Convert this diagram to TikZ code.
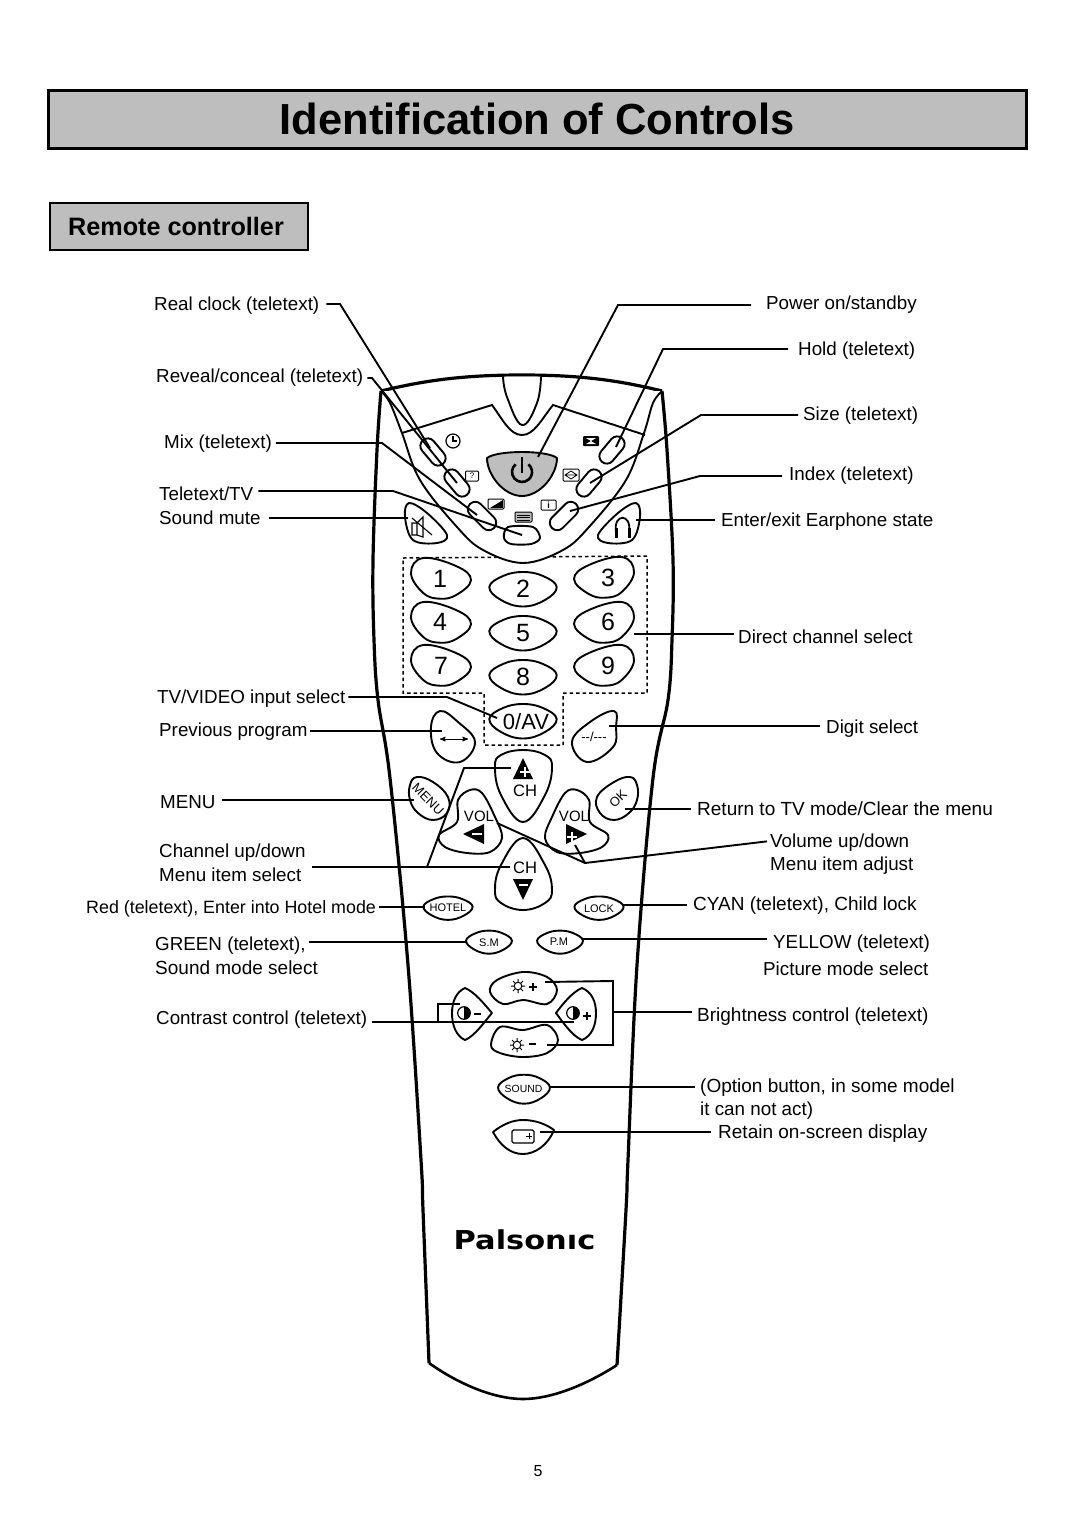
\documentclass[tikz,border=0pt]{standalone}
\usepackage{fontspec}
\setmainfont{Liberation Sans}
\newfontfamily\logofont{DejaVu Sans}
\usetikzlibrary{arrows}
\definecolor{panelgray}{HTML}{BEBEBE}
\tikzstyle{titlebox}=[rectangle,draw=black,line width=3pt,fill=panelgray,minimum width=978pt,minimum height=58pt,inner sep=0pt]
\tikzstyle{subbox}=[rectangle,draw=black,line width=1.8pt,fill=panelgray,minimum width=258pt,minimum height=47pt,inner sep=0pt]
\tikzstyle{caption}=[inner sep=0pt,anchor=base west,font=\fontsize{18.8}{21}\selectfont]
\tikzstyle{widecaption}=[caption,font=\fontsize{19}{21}\selectfont]
\tikzstyle{leader}=[black,line width=1.9pt,line join=miter]
\tikzstyle{btn}=[draw=black,fill=white,line width=1.9pt,line join=round]
\tikzstyle{body}=[black,line width=3.2pt]
\tikzstyle{face}=[black,line width=1.9pt]
\tikzstyle{pillbtn}=[rectangle,btn,rounded corners=7.5pt,minimum width=31pt,minimum height=15pt,inner sep=0pt]
\tikzstyle{digit}=[inner sep=0pt,font=\fontsize{25}{25}\selectfont]
\tikzstyle{keytxt}=[inner sep=0pt,font=\fontsize{15}{15}\selectfont]
\tikzstyle{smalltxt}=[inner sep=0pt,font=\fontsize{11}{11}\selectfont]
\tikzstyle{icon}=[draw=black,line width=1pt,fill=white,rounded corners=1pt]
\tikzset{
  eggbtn/.pic={\draw[btn] plot[smooth cycle,tension=.7] coordinates
    {(-29,-5) (-16.7,-20) (16.7,-11.7) (31,2) (16.7,16.7) (0,20.7) (-16.7,15)};},
  lensbtn/.pic={\draw[btn] plot[smooth cycle,tension=.7] coordinates
    {(-33.7,-2) (-20,-13) (0,-17) (20,-13) (33.7,-2) (22,11) (0,17.5) (-22,11)};},
  sunmark/.pic={\draw[black,line width=1pt] (-7,0) -- (7,0) (0,-7) -- (0,7) (-5,-5) -- (5,5) (-5,5) -- (5,-5);
    \draw[black,fill=white,line width=1pt] (0,0) circle (3.8);},
  halfmark/.pic={\draw[black,fill=white,line width=1.2pt] (0,0) circle (6.3);
    \fill[black] (0,-6.3) -- (0,6.3) .. controls (8.4,6.3) and (8.4,-6.3) .. (0,-6.3);}
}
\begin{document}
\begin{tikzpicture}[x=1pt,y=-1pt,>=stealth']

  \useasboundingbox (0,0) rectangle (1080,1527);
  \fill[white] (0,0) rectangle (1080,1527);

  % page headings
  \node[titlebox] (titleBox) at (537.5,119.5) {};
  \node[inner sep=0pt,anchor=base,font=\fontsize{43.5}{44}\selectfont\bfseries] (titleTxt) at (537,134) {Identification of Controls};
  \node[subbox] (subBox) at (179.3,226.2) {};
  \node[inner sep=0pt,anchor=base west,font=\fontsize{25.2}{26}\selectfont\bfseries] (subTxt) at (68,235) {Remote controller};
  \node[inner sep=0pt,anchor=base,font=\fontsize{16}{17}\selectfont] (pageNo) at (538,1476) {5};

  % housing
  \draw[body] (381,391) .. controls (430,379) and (470,375) .. (522,375) .. controls (574,375) and (614,379) .. (662,391);
  \draw[body] plot[smooth,tension=.6] coordinates {(381,391) (377,450) (373,560) (374,640) (378,700) (390,778) (408,965) (421,1160) (423,1210) (429,1363)};
  \draw[body] plot[smooth,tension=.6] coordinates {(662,391) (667,450) (673,560) (672,640) (668,700) (653,778) (637,965) (628,1160) (626,1210) (617,1365)};
  \draw[body,line width=2.6pt] (429,1363) .. controls (460,1385) and (495,1399) .. (523,1399) .. controls (551,1399) and (586,1385) .. (617,1365);

  % key group frame
  \draw[black,line width=1.5pt,dash pattern=on 3.5pt off 3pt] (403,558) -- (647,556) -- (647,693) -- (563,693) -- (563,745) -- (484,745) -- (484,693) -- (403,693) -- cycle;

  % upper face
  \draw[face,fill=white] plot[smooth,tension=.6] coordinates {(381,391) (390,403) (402,433) (420,480) (457,527) (483,550) (523,563) (563,550) (589,527) (626,480) (644,433) (653,403) (662,391)};
  \draw[face] (402,433) -- (492,405) .. controls (503,420) and (510,435) .. (522,435) .. controls (534,435) and (541,420) .. (553,405) -- (645,435);
  \draw[btn] plot[smooth,tension=.7] coordinates {(503,376.5) (507,397) (522,425) (537,403) (541,376.5)};

  % power key
  \draw[btn,fill=panelgray] (487,458) .. controls (497,450) and (547,450) .. (557,458) .. controls (557,475) and (540,496) .. (522,496) .. controls (504,496) and (487,475) .. (487,458) -- cycle;
  \draw[black,line width=2.6pt] (515.6,464.3) arc[start angle=130,end angle=410,radius=10pt];
  \draw[black,line width=2.6pt] (522,457) -- (522,473);

  % teletext keys
  \node[pillbtn,rotate=-50] (btnClock) at (433,452) {};
  \node[pillbtn,rotate=-50] (btnReveal) at (457,483) {};
  \node[pillbtn,rotate=-45,minimum width=34pt] (btnMix) at (482,516) {};
  \node[pillbtn,rotate=50] (btnHold) at (612,450) {};
  \node[pillbtn,rotate=50] (btnSize) at (589,483) {};
  \node[pillbtn,rotate=45,minimum width=34pt] (btnIndex) at (564,516) {};
  \draw[btn] plot[smooth cycle,tension=.5] coordinates {(508,527) (533,527) (540,538) (531,544) (511,544) (504,538)};
  \draw[btn] plot[smooth cycle,tension=.6] coordinates {(405,517) (409,503) (427,513) (447,535) (437,543) (413,540)};
  \draw[btn] plot[smooth cycle,tension=.6] coordinates {(640,517) (636,503) (618,513) (598,535) (608,543) (632,540)};

  % small marks above the teletext keys
  \draw[black,line width=1.2pt] (453,441) circle (7);
  \draw[black,line width=1.2pt] (453,436) -- (453,441) -- (457,441);
  \node[icon,minimum width=13pt,minimum height=10pt,inner sep=0pt,font=\fontsize{8}{8}\selectfont] (markHelp) at (472,476) {?};
  \draw[icon] (488,499) rectangle (504,509);
  \fill[black] (490,508) -- (503,500) -- (503,508) -- cycle;
  \draw[icon,fill=panelgray] (515,512) rectangle (532,522);
  \draw[black,line width=1pt] (517,515) -- (530,515) (517,517.5) -- (530,517.5) (517,520) -- (530,520);
  \node[icon,minimum width=15pt,minimum height=10pt,inner sep=0pt,font=\fontsize{9}{9}\selectfont\bfseries] (markInfo) at (548.5,505) {i};
  \draw[icon] (563,469) rectangle (579,481);
  \draw[black,line width=.8pt] (565,475) -- (571,471) -- (577,475) -- (571,479) -- cycle (565,475) -- (577,475);
  \fill[black,rounded corners=1pt] (583,436) rectangle (599,446);
  \fill[white] (586,438) -- (596,438) -- (591,441) -- cycle (586,444) -- (596,444) -- (591,441) -- cycle;

  % mute and earphone marks
  \draw[black,line width=1.1pt] (412,523) rectangle (417,535) (417,523) -- (423,517) -- (423,537) -- (417,535);
  \draw[black,line width=1.1pt] (412,518) -- (432,535);
  \draw[black,line width=1.8pt] (616,532) .. controls (613,513) and (632,513) .. (629,532);
  \draw[black,line width=3pt] (616,528) -- (616,538) (629,528) -- (629,538);

  % number keys
  \pic at (440,578) {eggbtn};
  \pic at (440,622) {eggbtn};
  \pic at (440,665) {eggbtn};
  \pic[xscale=-1] at (605,577) {eggbtn};
  \pic[xscale=-1] at (605,622) {eggbtn};
  \pic[xscale=-1] at (605,665) {eggbtn};
  \pic at (523,589) {lensbtn};
  \pic at (523,633) {lensbtn};
  \pic at (523,677) {lensbtn};
  \pic at (523,721) {lensbtn};
  \node[digit] (numOne) at (440,579) {1};
  \node[digit] (numTwo) at (523,589) {2};
  \node[digit] (numThree) at (608,578) {3};
  \node[digit] (numFour) at (440,622) {4};
  \node[digit] (numFive) at (523,633) {5};
  \node[digit] (numSix) at (608,622) {6};
  \node[digit] (numSeven) at (441,666) {7};
  \node[digit] (numEight) at (523,677) {8};
  \node[digit] (numNine) at (608,666) {9};
  \node[digit,font=\fontsize{22}{22}\selectfont] (numAv) at (526,722) {0/AV};

  % previous program and digit keys
  \draw[btn] plot[smooth cycle,tension=.7] coordinates {(440,711) (458,722) (475,742) (460,762) (437,753) (431,727)};
  \draw[btn] plot[smooth cycle,tension=.7] coordinates {(614,711) (590,722) (572,742) (587,762) (613,747) (616,727)};
  \draw[<->,black,line width=1pt] (440,739) -- (468,739);
  \node[keytxt,font=\fontsize{13}{13}\selectfont] (txtDigit) at (594,737) {-{}-/-{}-{}-};

  % channel and volume keys
  \draw[btn] plot[smooth cycle,tension=.7] coordinates {(523,750) (545,755) (552,767) (545,795) (523,822) (501,795) (495,767) (501,755)};
  \draw[btn] plot[smooth cycle,tension=.7] coordinates {(523,838) (545,865) (552,890) (545,903) (523,910) (501,903) (495,890) (501,865)};
  \draw[btn] plot[smooth cycle,tension=.6] coordinates {(470,790) (482,793) (495,817) (502,838) (490,852) (467,853) (445,847) (439,835) (457,822) (458,800)};
  \draw[btn] plot[smooth cycle,tension=.6] coordinates {(577,790) (565,793) (552,817) (545,838) (557,852) (580,853) (602,847) (608,835) (590,822) (589,800)};
  \draw[btn] plot[smooth cycle,tension=.7] coordinates {(410,785) (417,777) (433,782) (448,797) (447,813) (433,820) (418,813) (410,800)};
  \draw[btn] plot[smooth cycle,tension=.7] coordinates {(637,785) (630,777) (614,782) (597,797) (600,813) (614,820) (629,813) (637,800)};
  \node[keytxt,font=\fontsize{16.6}{17}\selectfont] (txtChUp) at (525,791) {CH};
  \node[keytxt,font=\fontsize{16.6}{17}\selectfont] (txtChDown) at (525,868) {CH};
  \node[keytxt] (txtVolMinus) at (479,816) {VOL};
  \node[keytxt] (txtVolPlus) at (574,816) {VOL};
  \node[keytxt,font=\fontsize{13}{14}\selectfont,rotate=-45] (txtMenu) at (428,799) {MENU};
  \node[keytxt,font=\fontsize{13}{14}\selectfont,rotate=45] (txtOk) at (618,799) {OK};
  \fill[black] (523,758) -- (513,779) -- (533,779) -- cycle;
  \fill[black] (513,879) -- (533,879) -- (523,900) -- cycle;
  \fill[black] (463,834) -- (484,824) -- (484,844) -- cycle;
  \fill[black] (566,824) -- (566,844) -- (587,834) -- cycle;
  \draw[white,line width=1.3pt] (520,772) -- (530,772) (525,767) -- (525,777);
  \draw[white,line width=1.3pt] (519,885) -- (528,885);
  \draw[white,line width=1.3pt] (472,834) -- (482,834);
  \draw[white,line width=1.3pt] (567,837) -- (577,837) (572,832) -- (572,842);

  % colour keys
  \pic[xscale=.73,yscale=.68] at (448,908) {lensbtn};
  \pic[xscale=.73,yscale=.68] at (599,908) {lensbtn};
  \pic[xscale=.68,yscale=.67] at (489,942) {lensbtn};
  \pic[xscale=.68,yscale=.67] at (560,942) {lensbtn};
  \node[smalltxt] (txtHotel) at (448,908) {HOTEL};
  \node[smalltxt] (txtLock) at (599,908.5) {LOCK};
  \node[smalltxt] (txtSm) at (489,943) {S.M};
  \node[smalltxt] (txtPm) at (559,942) {P.M};

  % brightness and contrast keys
  \draw[btn] plot[smooth cycle,tension=.6] coordinates {(490,992) (497,980) (523,972) (547,977) (557,990) (547,1004) (523,1000) (503,1004)};
  \draw[btn] plot[smooth cycle,tension=.6] coordinates {(491,1045) (500,1027) (523,1030) (547,1025) (558,1040) (547,1053) (523,1057) (500,1053)};
  \draw[btn] (465,988) .. controls (475,992) and (485,1005) .. (492,1013) .. controls (485,1021) and (475,1036) .. (465,1040) .. controls (456,1036) and (452,1025) .. (452,1013) .. controls (452,1002) and (456,992) .. (465,988) -- cycle;
  \draw[btn] (582,988) .. controls (572,992) and (562,1005) .. (556,1013) .. controls (562,1021) and (572,1036) .. (582,1040) .. controls (592,1036) and (596,1025) .. (596,1013) .. controls (596,1002) and (592,992) .. (582,988) -- cycle;
  \pic at (518,986) {sunmark};
  \pic at (517,1045) {sunmark};
  \pic at (464,1013) {halfmark};
  \pic at (573,1013) {halfmark};
  \draw[black,line width=1.2pt] (529,987) -- (537,987) (533,983) -- (533,991);
  \draw[black,line width=1.2pt] (529,1044) -- (536,1044);
  \draw[black,line width=1.2pt] (474,1014) -- (481,1014);
  \draw[black,line width=1.2pt] (583,1016) -- (591,1016) (587,1012) -- (587,1020);

  % sound and retain keys
  \pic[xscale=.77,yscale=.84] at (524,1089) {lensbtn};
  \node[smalltxt,font=\fontsize{10.4}{11}\selectfont] (txtSound) at (523.5,1088.5) {SOUND};
  \draw[btn] (493,1132) .. controls (503,1124) and (513,1120) .. (523,1120) .. controls (535,1120) and (546,1124) .. (554,1130) .. controls (548,1145) and (535,1154) .. (523,1154) .. controls (510,1154) and (500,1145) .. (493,1132) -- cycle;
  \draw[black,line width=1.2pt,rounded corners=1.5pt] (512,1130) rectangle (534,1143);
  \draw[black,line width=.8pt] (526,1136) -- (532,1136) (529,1133) -- (529,1139);

  % maker's name
  \node[inner sep=0pt,anchor=base,font=\logofont\fontsize{26}{27}\selectfont\bfseries] (logoTxt) at (524.5,1249) {\scalebox{1.17}[1]{Palsonıc}};

  % captions, left side
  \node[caption] (lblClock) at (154,310) {Real clock (teletext)};
  \node[caption] (lblReveal) at (156,382) {Reveal/conceal (teletext)};
  \node[caption] (lblMix) at (164,448) {Mix (teletext)};
  \node[caption] (lblTeletext) at (159,500) {Teletext/TV};
  \node[caption] (lblMute) at (159,524) {Sound mute};
  \node[caption] (lblTvVideo) at (157,703) {TV/VIDEO input select};
  \node[caption] (lblPrevious) at (159,736) {Previous program};
  \node[caption] (lblMenu) at (160,808) {MENU};
  \node[caption] (lblChannel) at (159,857) {Channel up/down};
  \node[caption] (lblItemSelect) at (159,881) {Menu item select};
  \node[caption,font=\fontsize{17.85}{20}\selectfont] (lblRed) at (86,913) {Red (teletext), Enter into Hotel mode};
  \node[caption] (lblGreen) at (155,950) {GREEN (teletext),};
  \node[widecaption] (lblSoundMode) at (155,974) {Sound mode select};
  \node[caption] (lblContrast) at (156,1024) {Contrast control (teletext)};

  % captions, right side
  \node[caption] (lblPower) at (766,309) {Power on/standby};
  \node[caption] (lblHold) at (798,355) {Hold (teletext)};
  \node[caption] (lblSize) at (803,420) {Size (teletext)};
  \node[caption] (lblIndex) at (789,480) {Index (teletext)};
  \node[caption] (lblEarphone) at (721,526) {Enter/exit Earphone state};
  \node[caption] (lblDirect) at (738,643) {Direct channel select};
  \node[caption] (lblDigit) at (826,733) {Digit select};
  \node[widecaption] (lblReturn) at (697,815) {Return to TV mode/Clear the menu};
  \node[caption] (lblVolume) at (770,847) {Volume up/down};
  \node[caption] (lblItemAdjust) at (770,870) {Menu item adjust};
  \node[widecaption] (lblCyan) at (693,910) {CYAN (teletext), Child lock};
  \node[caption] (lblYellow) at (773,948) {YELLOW (teletext)};
  \node[caption] (lblPicture) at (763,975) {Picture mode select};
  \node[widecaption] (lblBrightness) at (697,1021) {Brightness control (teletext)};
  \node[widecaption] (lblOption) at (700,1092) {(Option button, in some model};
  \node[caption] (lblNoAct) at (700,1115) {it can not act)};
  \node[widecaption] (lblRetain) at (718,1138) {Retain on-screen display};

  % far ends of the leaders
  \coordinate (eClock) at (430,448);
  \coordinate (eReveal) at (457,483);
  \coordinate (eMix) at (477,515);
  \coordinate (eTeletext) at (522,535);
  \coordinate (eMute) at (408,518);
  \coordinate (ePower) at (538,457);
  \coordinate (eHold) at (616,447);
  \coordinate (eSize) at (590,483);
  \coordinate (eIndex) at (570,511);
  \coordinate (eEarphone) at (636,520);
  \coordinate (eDirect) at (634,634);
  \coordinate (eDigit) at (609,726);
  \coordinate (eAv) at (497,718);
  \coordinate (ePrevious) at (442,731);
  \coordinate (eMenu) at (414,800);
  \coordinate (eChDown) at (510,867);
  \coordinate (eChUp) at (511,768);
  \coordinate (jChannel) at (427,867);
  \coordinate (eHotel) at (425,907);
  \coordinate (eSm) at (467,942);
  \coordinate (eContrastPlus) at (574,1022);
  \coordinate (eContrastMinus) at (460,1004);
  \coordinate (jContrast) at (438,1022);
  \coordinate (eOk) at (625,809);
  \coordinate (jVolume) at (585,863);
  \coordinate (eVolMinus) at (497,823);
  \coordinate (eVolPlus) at (575,845);
  \coordinate (eLock) at (622,905);
  \coordinate (ePm) at (583,939);
  \coordinate (jBright) at (613,1012);
  \coordinate (eBrightPlus) at (545,982);
  \coordinate (eBrightMinus) at (547,1045);
  \coordinate (eSound) at (550,1087);
  \coordinate (eRetain) at (540,1132);

  % leaders, left side
  \draw[leader,shorten <=7pt] (lblClock.east |- 0,304) -- (340,304) -- (eClock);
  \draw[leader,shorten <=4pt] (lblReveal.east |- 0,378) -- (372,378) -- (eReveal);
  \draw[leader,shorten <=4pt] (lblMix.east |- 0,443) -- (382,443) -- (eMix);
  \draw[leader,shorten <=5pt] (lblTeletext.east |- 0,491) -- (393,491) -- (eTeletext);
  \draw[leader,shorten <=8pt] (lblMute.east |- eMute) -- (eMute);
  \draw[leader,shorten <=3pt] (lblTvVideo.east |- 0,697) -- (447,697) -- (eAv);
  \draw[leader,shorten <=2pt] (lblPrevious.east |- ePrevious) -- (ePrevious);
  \draw[leader,shorten <=6pt] (lblMenu.east |- eMenu) -- (eMenu);
  \draw[leader,shorten <=6pt] (lblChannel.east |- eChDown) -- (eChDown);
  \draw[leader] (jChannel) -- (464,768) -- (eChUp);
  \draw[leader,shorten <=3pt] (lblRed.east |- eHotel) -- (eHotel);
  \draw[leader,shorten <=3pt] (lblGreen.east |- eSm) -- (eSm);
  \draw[leader,shorten <=5pt] (lblContrast.east |- eContrastPlus) -- (eContrastPlus);
  \draw[leader] (jContrast) -- (438,1004) -- (eContrastMinus);

  % leaders, right side
  \draw[leader,shorten <=15pt] (lblPower.west |- 0,305) -- (618,305) -- (ePower);
  \draw[leader,shorten <=10pt] (lblHold.west |- 0,349) -- (663,349) -- (eHold);
  \draw[leader,shorten <=5pt] (lblSize.west |- 0,415) -- (701,415) -- (eSize);
  \draw[leader,shorten <=7pt] (lblIndex.west |- 0,476) -- (700,476) -- (eIndex);
  \draw[leader,shorten <=6pt] (lblEarphone.west |- eEarphone) -- (eEarphone);
  \draw[leader,shorten <=4pt] (lblDirect.west |- eDirect) -- (eDirect);
  \draw[leader,shorten <=6pt] (lblDigit.west |- eDigit) -- (eDigit);
  \draw[leader,shorten <=6pt] (lblReturn.west |- eOk) -- (eOk);
  \draw[leader,shorten <=3pt] (lblVolume.west |- 0,841) -- (jVolume) -- (eVolMinus);
  \draw[leader] (jVolume) -- (eVolPlus);
  \draw[leader,shorten <=6pt] (lblCyan.west |- eLock) -- (eLock);
  \draw[leader,shorten <=6pt] (lblYellow.west |- ePm) -- (ePm);
  \draw[leader,shorten <=5pt] (lblBrightness.west |- jBright) -- (jBright);
  \draw[leader] (eBrightPlus) -- (613,981) -- (613,1045) -- (eBrightMinus);
  \draw[leader,shorten <=5pt] (lblOption.west |- eSound) -- (eSound);
  \draw[leader,shorten <=7pt] (lblRetain.west |- eRetain) -- (eRetain);

\end{tikzpicture}
\end{document}
